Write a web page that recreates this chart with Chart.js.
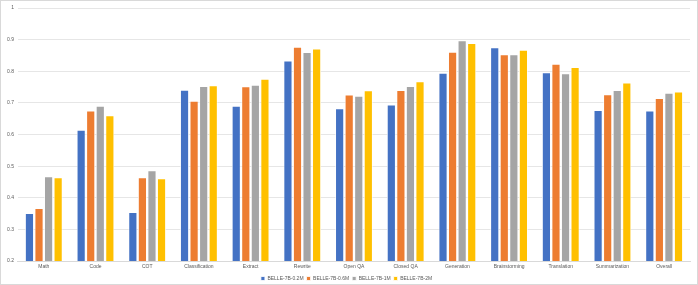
<!DOCTYPE html>
<html>
<head>
<meta charset="utf-8">
<script src="https://cdn.jsdelivr.net/npm/chart.js@4"></script>
<style>
    html, body { margin: 0; padding: 0; background: #fff; }
    #wrap {
        width: 698px;
        height: 285px;
        box-sizing: border-box;
        border: 1px solid #d9d9d9;
        position: relative;
    }
</style>
</head>
<body>
<div id="wrap"><canvas id="chart"></canvas></div>
<script>
const categories = ["Math", "Code", "COT", "Classification", "Extract", "Rewrite", "Open QA",
    "Closed QA", "Generation", "Brainstorming", "Translation", "Summarization", "Overall"];

const seriesNames = ["BELLE-7B-0.2M", "BELLE-7B-0.6M", "BELLE-7B-1M", "BELLE-7B-2M"];
const seriesColors = ["#4472c4", "#ed7d31", "#a5a5a5", "#ffc000"];

const belle02 = [0.351, 0.614, 0.354, 0.741, 0.690, 0.833, 0.682, 0.694, 0.795, 0.875, 0.796, 0.677, 0.675];
const belle06 = [0.367, 0.675, 0.464, 0.706, 0.752, 0.877, 0.726, 0.740, 0.861, 0.853, 0.823, 0.727, 0.715];
const belle1 = [0.467, 0.690, 0.486, 0.753, 0.757, 0.860, 0.722, 0.753, 0.897, 0.853, 0.793, 0.740, 0.731];
const belle2 = [0.464, 0.660, 0.461, 0.755, 0.776, 0.871, 0.739, 0.768, 0.889, 0.867, 0.813, 0.764, 0.735];

const yTicks = [0.2, 0.3, 0.4, 0.5, 0.6, 0.7, 0.8, 0.9, 1];

const allSeries = [belle02, belle06, belle1, belle2];

const font = { family: "Liberation Sans", size: 5 };

new Chart(document.getElementById("chart"), {
    type: "bar",
    data: {
        labels: categories,
        datasets: allSeries.map((vals, i) => ({
            label: seriesNames[i],
            data: vals,
            backgroundColor: seriesColors[i],
            borderColor: "#ffffff",
            borderWidth: 0.8,
            categoryPercentage: 0.74,
            barPercentage: 0.92
        }))
    },
    options: {
        responsive: true,
        maintainAspectRatio: false,
        animation: false,
        layout: { padding: { left: 2, right: 7, top: -2, bottom: -7 } },
        plugins: {
            tooltip: { enabled: false },
            legend: {
                position: "bottom",
                labels: {
                    font: font,
                    color: "#595959",
                    boxWidth: 4,
                    boxHeight: 4,
                    padding: 3
                }
            }
        },
        scales: {
            x: {
                grid: { display: false, drawTicks: false },
                border: { color: "#d9d9d9" },
                ticks: { font: font, color: "#595959", padding: 3, maxRotation: 0 }
            },
            y: {
                min: 0.2,
                max: 1,
                afterBuildTicks: axis => { axis.ticks = yTicks.map(v => ({ value: v })); },
                grid: { color: "#e6e6e6", drawTicks: false },
                border: { display: false },
                ticks: {
                    font: font,
                    color: "#595959",
                    padding: 4,
                    callback: v => String(Math.round(v * 10) / 10)
                }
            }
        }
    }
});
</script>
</body>
</html>
